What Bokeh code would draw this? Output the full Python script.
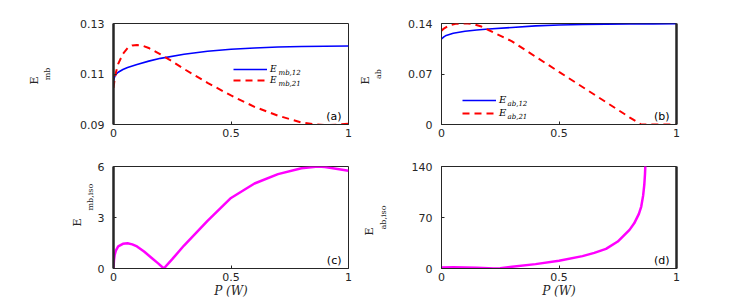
from bokeh.plotting import figure
from bokeh.models import LinearAxis, Label, Legend, LegendItem, FixedTicker, Title
from bokeh.layouts import column, row
from bokeh.embed import file_html
from bokeh.resources import INLINE

# ---------------- data ----------------
P_a_blue = [0, 0.005, 0.01, 0.02, 0.04, 0.06, 0.1, 0.15, 0.2, 0.3, 0.4, 0.5, 0.6, 0.7, 0.8, 0.9, 1.0]
E_mb_12 = [0.1072, 0.1090, 0.1098, 0.1107, 0.1118, 0.1126, 0.1138, 0.1151, 0.1162, 0.1178, 0.1190,
           0.1198, 0.1203, 0.1207, 0.1209, 0.1210, 0.1211]
P_a_red = [0, 0.005, 0.01, 0.02, 0.04, 0.06, 0.08, 0.1, 0.12, 0.15, 0.2, 0.25, 0.3, 0.4, 0.5, 0.6,
           0.7, 0.8, 0.85, 0.9, 0.95, 1.0]
E_mb_21 = [0.1045, 0.1080, 0.1105, 0.1140, 0.1180, 0.1203, 0.1213, 0.1215, 0.1213, 0.1203, 0.1178,
           0.1150, 0.1120, 0.1065, 0.1015, 0.0970, 0.0935, 0.0908, 0.0901, 0.0898, 0.0899, 0.0903]

P_b_blue = [0, 0.01, 0.02, 0.05, 0.1, 0.15, 0.2, 0.3, 0.4, 0.5, 0.6, 0.7, 0.8, 0.9, 1.0]
E_ab_12 = [0.1185, 0.1215, 0.1235, 0.1265, 0.1293, 0.1310, 0.1323, 0.1345, 0.1367, 0.1380, 0.1387,
           0.1391, 0.1393, 0.1395, 0.1396]
P_b_red = [0, 0.01, 0.03, 0.06, 0.1, 0.13, 0.17, 0.2, 0.3, 0.4, 0.5, 0.6, 0.7, 0.8, 0.84, 0.85, 0.9, 1.0]
E_ab_21 = [0.130, 0.133, 0.137, 0.1395, 0.1402, 0.1395, 0.1358, 0.131, 0.1153, 0.094, 0.073, 0.052,
           0.031, 0.010, 0.002, 0.0, 0.0, 0.0]

P_c = [0, 0.002, 0.005, 0.01, 0.02, 0.04, 0.06, 0.08, 0.1, 0.13, 0.16, 0.19, 0.214, 0.25, 0.3, 0.4,
       0.5, 0.6, 0.7, 0.8, 0.87, 0.9, 1.0]
E_mb_iso = [0, 0.5, 0.8, 1.05, 1.3, 1.45, 1.48, 1.42, 1.3, 1.0, 0.65, 0.3, 0.0, 0.55, 1.35, 2.8,
            4.15, 5.0, 5.55, 5.9, 6.0, 5.97, 5.75]

P_d = [0, 0.05, 0.1, 0.15, 0.2, 0.22, 0.25, 0.3, 0.4, 0.5, 0.6, 0.65, 0.7, 0.75, 0.8, 0.82, 0.84,
       0.85, 0.858, 0.863, 0.866, 0.868]
E_ab_iso = [1.5, 1.6, 1.4, 0.9, 0.25, 0.0, 0.5, 2.5, 6, 10.5, 17, 21.5, 27, 37, 53, 62, 75, 85, 100,
            115, 130, 145]

x_ticks = [0, 0.5, 1]
x_tick_labels = ["0", "0.5", "1"]
a_ticks, a_labels = [0.09, 0.11, 0.13], ["0.09", "0.11", "0.13"]
b_ticks, b_labels = [0, 0.07, 0.14], ["0", "0.07", "0.14"]
c_ticks, c_labels = [0, 3, 6], ["0", "3", "6"]
d_ticks, d_labels = [0, 70, 140], ["0", "70", "140"]

TICK_FONT = "DejaVu Sans"
SERIF = "DejaVu Serif"
AX = "#262626"


def panel(yr, yt, yl, bl, br, bt, bb, fh, thick_left):
    p = figure(frame_width=235, frame_height=fh, x_range=(0, 1), y_range=yr,
               min_border_left=bl, min_border_right=br, min_border_top=bt, min_border_bottom=bb,
               output_backend="svg", toolbar_location=None)
    p.grid.visible = False
    p.outline_line_color = AX
    p.outline_line_width = 1
    for ax, ticks, labels in ((p.xaxis[0], x_ticks, x_tick_labels), (p.yaxis[0], yt, yl)):
        ax.ticker = FixedTicker(ticks=ticks)
        ax.major_label_overrides = {t: s for t, s in zip(ticks, labels)}
        ax.minor_tick_line_color = None
        ax.major_tick_in = 3
        ax.major_tick_out = 0
        ax.major_tick_line_color = AX
        ax.axis_line_color = AX
        ax.major_label_text_font = TICK_FONT
        ax.major_label_text_font_size = "11px"
        ax.major_label_text_color = AX
    p.xaxis[0].major_label_standoff = 4
    p.yaxis[0].major_label_standoff = 9
    if thick_left:
        p.yaxis[0].axis_line_width = 2.5
    else:
        r_ax = LinearAxis(ticker=FixedTicker(ticks=[]), minor_tick_line_color=None,
                          axis_line_color=AX, axis_line_width=2.5)
        p.add_layout(r_ax, "right")
    return p


def e_title(p, e_off):
    p.add_layout(Title(text="E", align="left", offset=e_off, standoff=0, text_font=SERIF,
                       text_font_size="11px", text_font_style="normal", text_color=AX), "left")


def ylabel_axis(p, sub, e_off, gap):
    ax = p.yaxis[0]
    ax.axis_label = sub
    ax.axis_label_text_font = SERIF
    ax.axis_label_text_font_size = "8px"
    ax.axis_label_text_font_style = "normal"
    ax.axis_label_text_color = AX
    ax.axis_label_standoff = gap
    e_title(p, e_off)


def ylabel_title(p, sub, e_off, s_off):
    p.add_layout(Title(text=sub, align="left", offset=s_off, standoff=0, text_font=SERIF,
                       text_font_size="8px", text_font_style="normal", text_color=AX), "left")
    e_title(p, e_off)


def tag(p, s):
    p.add_layout(Label(x=228, y=2, x_units="screen", y_units="screen", text=s,
                       text_font=TICK_FONT, text_font_size="11px", text_align="right",
                       text_baseline="bottom", text_color="black"))


def xlabel(p):
    ax = p.xaxis[0]
    ax.axis_label = "P (W)"
    ax.axis_label_text_font = SERIF
    ax.axis_label_text_font_style = "italic"
    ax.axis_label_text_font_size = "12px"
    ax.axis_label_text_color = AX
    ax.axis_label_standoff = 0


def legend(p, renderers, x, centers, subs, fs):
    for r, c, s in zip(renderers, centers, subs):
        lg = Legend(items=[LegendItem(label="E", renderers=[r])],
                    location=(x, c - 5), padding=0, margin=0, spacing=0, border_line_alpha=0,
                    background_fill_alpha=0, glyph_width=34, glyph_height=10, label_height=10,
                    label_standoff=3, label_text_font=SERIF, label_text_font_style="italic",
                    label_text_font_size=fs, label_text_color="black")
        p.add_layout(lg)
        p.add_layout(Label(x=x + 45, y=c - 3, x_units="screen", y_units="screen", text=s,
                           text_font=SERIF, text_font_style="italic", text_font_size="7px",
                           text_align="left", text_baseline="middle", text_color="black"))


# (a)
pa = panel((0.09, 0.13), a_ticks, a_labels, 113, 8, 23, 21, 101, True)
ra1 = pa.line(P_a_blue, E_mb_12, line_color="#0000FF", line_width=1.6)
ra2 = pa.line(P_a_red, E_mb_21, line_color="#FF0000", line_width=2, line_dash="7 5")
legend(pa, [ra1, ra2], 120, [55, 44], ["mb,12", "mb,21"], "9px")
ylabel_axis(pa, "mb", 40, 25)
tag(pa, "(a)")

# (b)
pb = panel((0, 0.14), b_ticks, b_labels, 85, 60, 23, 21, 101, False)
rb1 = pb.line(P_b_blue, E_ab_12, line_color="#0000FF", line_width=1.6)
rb2 = pb.line(P_b_red, E_ab_21, line_color="#FF0000", line_width=2, line_dash="7 5")
legend(pb, [rb1, rb2], 21, [24, 11], ["ab,12", "ab,21"], "10px")
ylabel_axis(pb, "ab", 40, 22)
tag(pb, "(b)")

# (c)
pc = panel((0, 6), c_ticks, c_labels, 113, 8, 21, 32, 102, True)
pc.line(P_c, E_mb_iso, line_color="#FF00FF", line_width=2.5)
ylabel_title(pc, "mb,iso", 42, 58)
tag(pc, "(c)")
xlabel(pc)

# (d)
pd_ = panel((0, 140), d_ticks, d_labels, 85, 60, 21, 32, 102, False)
pd_.line(P_d, E_ab_iso, line_color="#FF00FF", line_width=2.5)
ylabel_axis(pd_, "ab,iso", 33, 21)
tag(pd_, "(d)")
xlabel(pd_)

layout = column(row(pa, pb, spacing=0), row(pc, pd_, spacing=0), spacing=0)
open("out.html", "w").write(file_html(layout, INLINE))
